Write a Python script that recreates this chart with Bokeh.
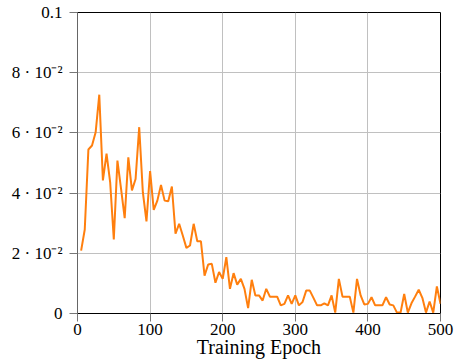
from bokeh.plotting import figure
from bokeh.models import ColumnDataSource, FixedTicker, Range1d
from bokeh.embed import file_html
from bokeh.resources import INLINE

epochs = list(range(5, 505, 5))
loss = [
    0.0209, 0.0279, 0.0545, 0.0558, 0.0602, 0.0727, 0.0442, 0.0531, 0.0436, 0.0246,
    0.0508, 0.0414, 0.0317, 0.0519, 0.0409, 0.0447, 0.0619, 0.0403, 0.0306, 0.0473,
    0.0344, 0.0375, 0.0427, 0.0375, 0.0373, 0.0422, 0.0265, 0.0298, 0.0259, 0.0218,
    0.0226, 0.0298, 0.0240, 0.0240, 0.0126, 0.0163, 0.0165, 0.0102, 0.0138, 0.0115,
    0.0187, 0.0082, 0.0134, 0.0096, 0.0115, 0.0082, 0.0018, 0.0112, 0.0060, 0.0060,
    0.0043, 0.0082, 0.0056, 0.0056, 0.0056, 0.0027, 0.0032, 0.0060, 0.0032, 0.0060,
    0.0027, 0.0038, 0.0076, 0.0076, 0.0052, 0.0027, 0.0027, 0.0034, 0.0027, 0.0060,
    0.0003, 0.0115, 0.0056, 0.0056, 0.0056, 0.0003, 0.0115, 0.0060, 0.0030, 0.0032,
    0.0054, 0.0027, 0.0027, 0.0027, 0.0054, 0.0030, 0.0027, 0.0003, 0.0003, 0.0065,
    0.0003, 0.0034, 0.0056, 0.0079, 0.0052, 0.0003, 0.0040, 0.0003, 0.0090, 0.0032,
]

x_ticks = [0, 100, 200, 300, 400, 500]
y_ticks = [0, 0.02, 0.04, 0.06, 0.08, 0.1]
y_tick_labels = ["0", "2 \u00b7 10\u207b\u00b2", "4 \u00b7 10\u207b\u00b2",
                 "6 \u00b7 10\u207b\u00b2", "8 \u00b7 10\u207b\u00b2", "0.1"]
x_label = "Training Epoch"

source = ColumnDataSource(data=dict(epoch=epochs, loss=loss))

p = figure(width=454, height=364, output_backend="svg", toolbar_location=None,
           x_range=Range1d(0, 500), y_range=Range1d(0, 0.1),
           min_border_left=77, min_border_right=14, min_border_top=12, min_border_bottom=51)

p.line("epoch", "loss", source=source, line_color="#ff7f0e", line_width=2)

font = "Liberation Serif"
p.xaxis.ticker = FixedTicker(ticks=x_ticks)
p.yaxis.ticker = FixedTicker(ticks=y_ticks)
p.yaxis.major_label_overrides = {t: l for t, l in zip(y_ticks, y_tick_labels)}
p.xaxis.axis_label = x_label

for ax in (p.xaxis[0], p.yaxis[0]):
    ax.major_label_text_font = font
    ax.major_label_text_font_size = "17px"
    ax.major_label_text_color = "black"
    ax.minor_tick_line_color = None
    ax.major_tick_in = 0
    ax.major_tick_out = 8
    ax.major_tick_line_color = "#777777"
    ax.major_tick_line_width = 1

p.xaxis.axis_label_text_font = font
p.xaxis.axis_label_text_font_size = "20px"
p.xaxis.axis_label_text_font_style = "normal"
p.xaxis.axis_label_text_color = "black"
p.xaxis.axis_label_standoff = -2
p.xaxis.major_label_standoff = 2
p.yaxis.major_label_standoff = 7

p.xaxis.axis_line_color = "black"
p.yaxis.axis_line_color = "#666666"

p.xgrid.grid_line_color = "#c0c0c0"
p.ygrid.grid_line_color = "#c0c0c0"
p.xgrid.grid_line_width = 1
p.ygrid.grid_line_width = 1

p.outline_line_color = "black"
p.outline_line_width = 1
p.background_fill_color = "white"
p.border_fill_color = "white"

open("out.html", "w").write(file_html(p, INLINE))
